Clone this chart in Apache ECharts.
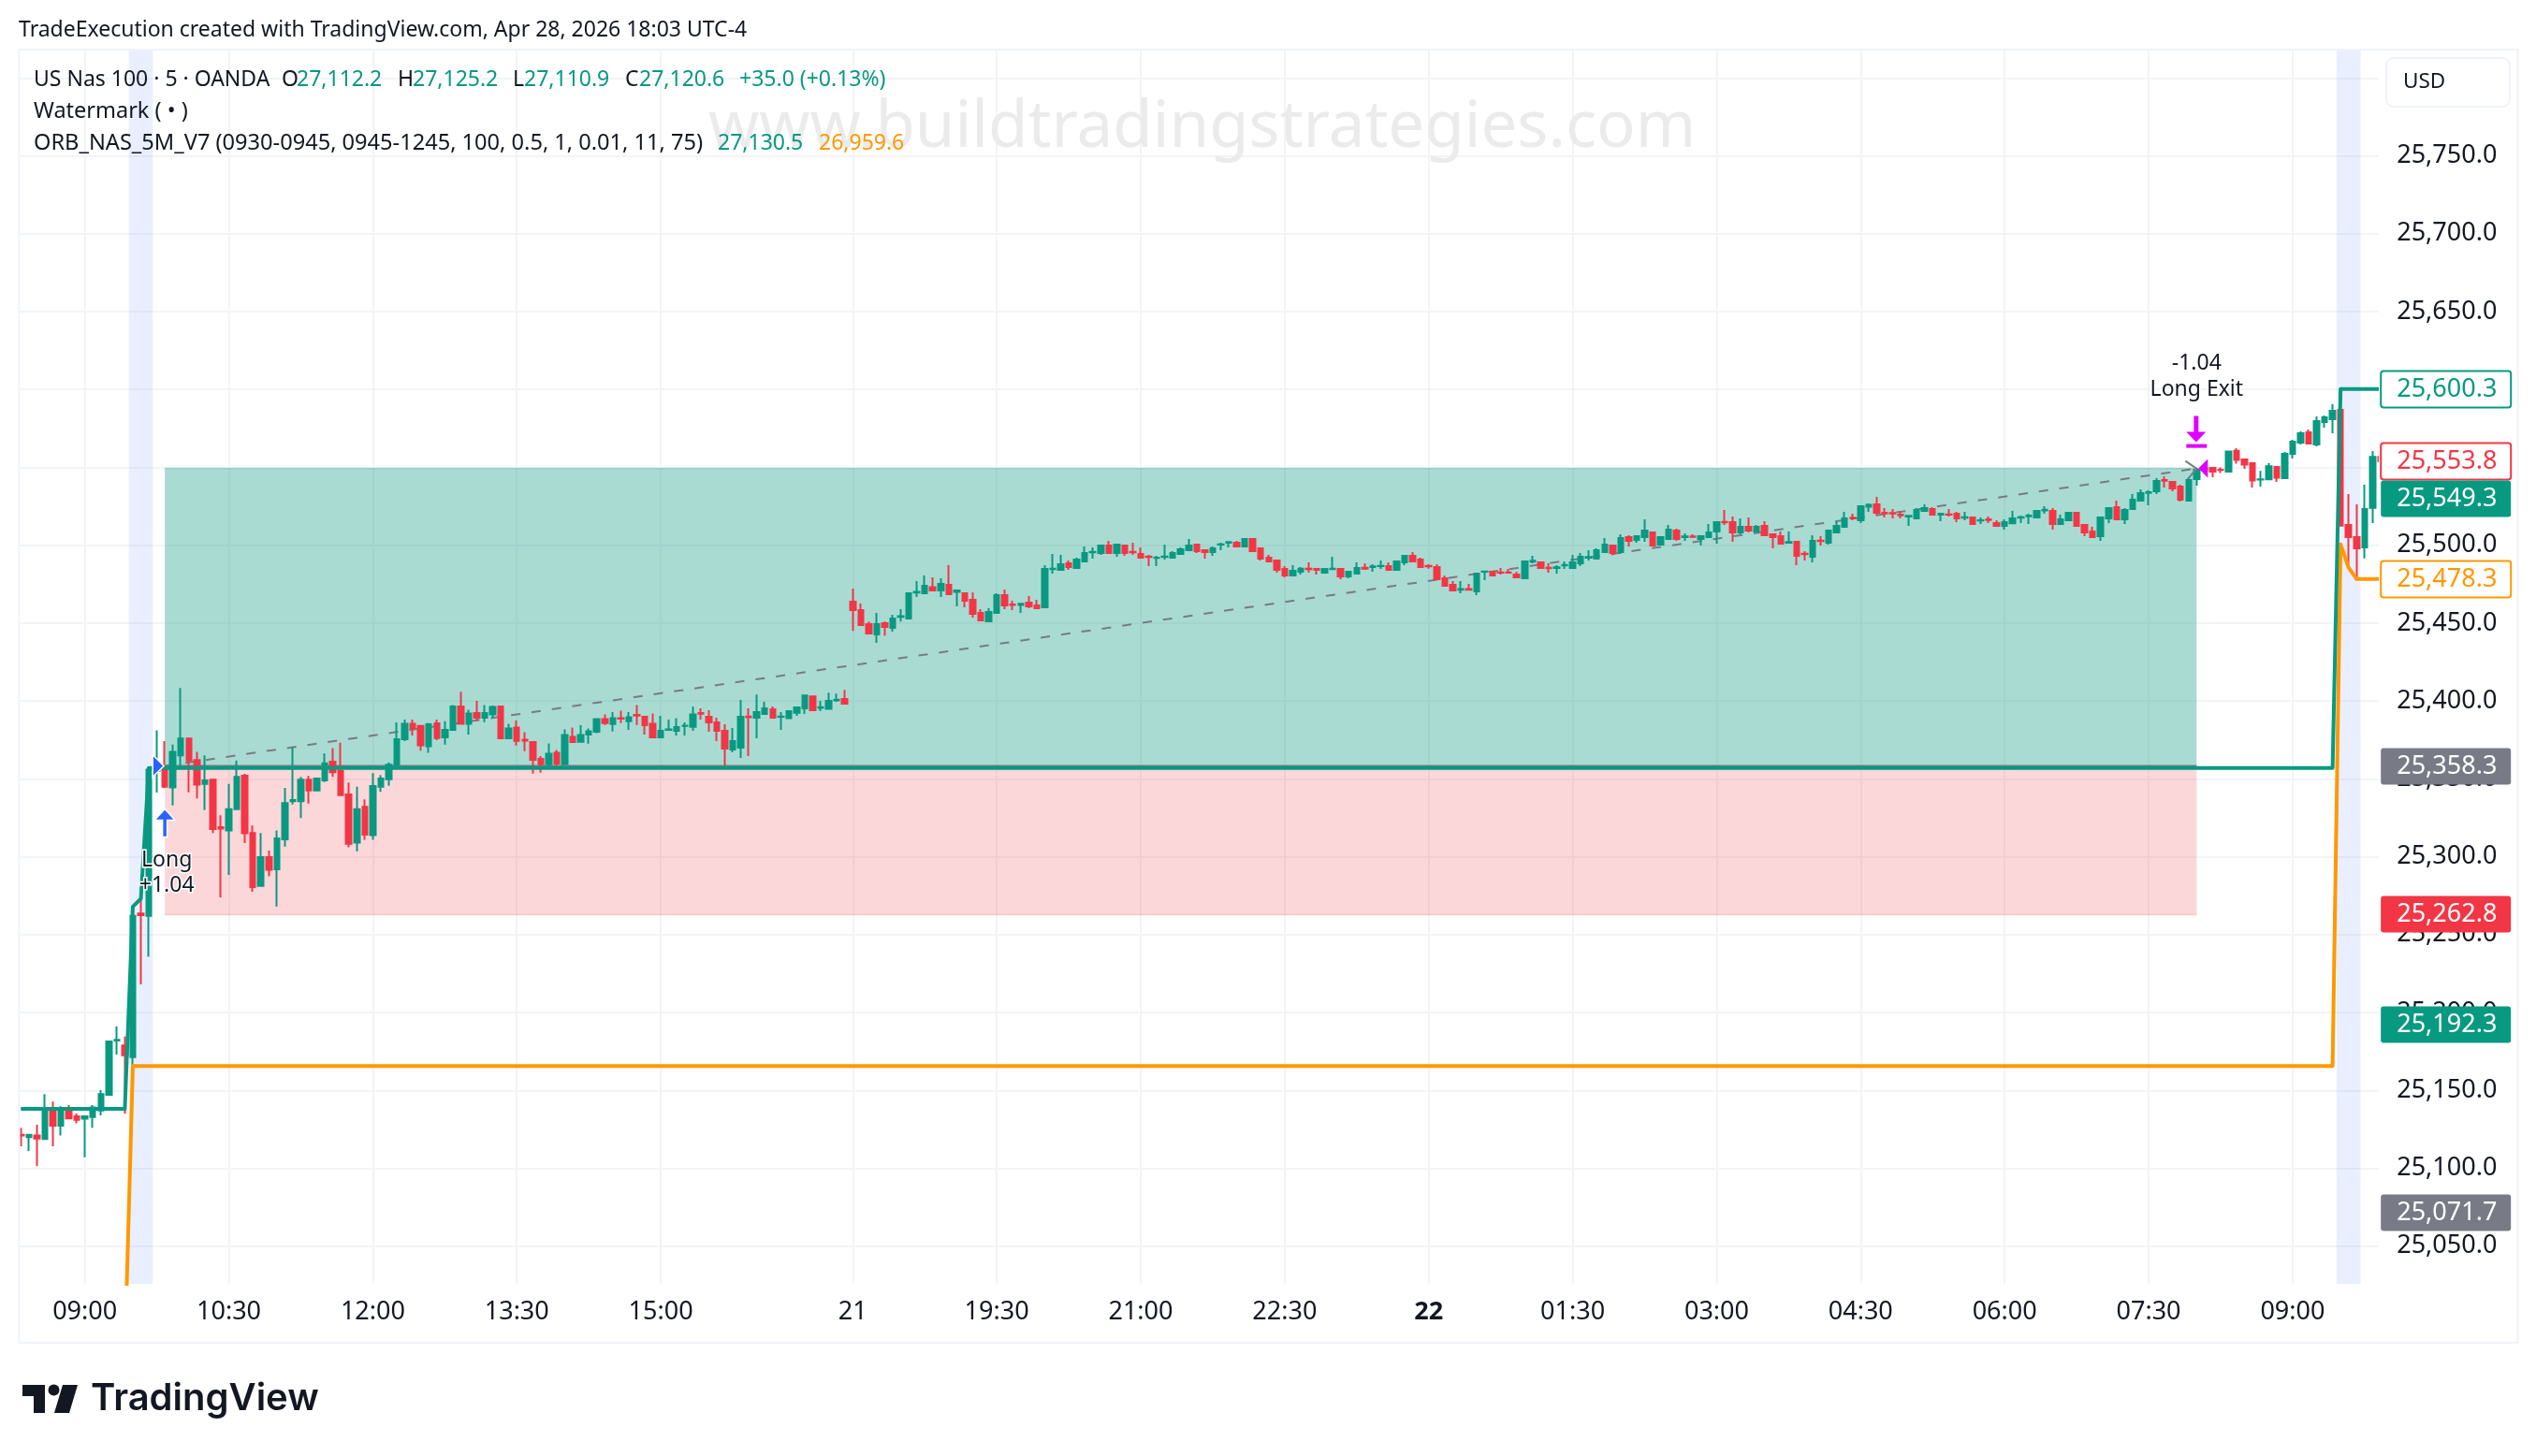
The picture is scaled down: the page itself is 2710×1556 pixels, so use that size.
<!DOCTYPE html>
<html>
<head>
<meta charset="utf-8">
<title>US Nas 100 ORB</title>
<script src="https://cdn.jsdelivr.net/npm/echarts@6/dist/echarts.min.js"></script>
<style>
  html, body { margin: 0; padding: 0; background: #ffffff; }
  #chart { width: 2710px; height: 1556px; }
</style>
</head>
<body>
<div id="chart"></div>
<script>
// candles are [open, close, low, high], one row per 5 minute bar
// Apr 20 session, 08:20 up to 16:55
var candlesAm = [
[25121.4,25121.0,25114.1,25126.0],[25120.0,25121.5,25111.0,25121.9],[25121.0,25119.0,25101.4,25127.9],[25118.7,25138.0,25118.7,25147.6],
[25138.0,25127.4,25114.1,25142.8],[25127.4,25138.0,25121.0,25139.8],[25137.5,25132.0,25131.5,25140.5],[25133.4,25131.1,25128.8,25135.2],
[25131.8,25133.4,25107.0,25133.4],[25132.9,25139.0,25126.0,25140.5],[25137.1,25147.6,25134.0,25150.2],[25147.2,25181.4,25147.0,25181.9],
[25182.0,25182.5,25173.0,25191.0],[25178.9,25172.5,25135.0,25184.6],[25171.3,25262.1,25166.3,25262.6],[25263.5,25262.5,25218.0,25273.2],
[25262.0,25355.9,25235.7,25357.8],[25355.0,25357.0,25341.2,25381.2],[25357.0,25344.9,25344.0,25374.3],[25344.5,25367.4,25333.0,25372.0],
[25365.1,25375.9,25358.0,25408.4],[25375.9,25361.7,25341.4,25376.6],[25362.1,25346.3,25337.5,25367.4],[25346.7,25349.0,25330.0,25365.1],
[25349.5,25317.8,25315.2,25350.2],[25318.9,25318.0,25273.9,25326.7],[25316.9,25330.6,25288.3,25346.7],[25330.6,25351.3,25330.6,25361.7],
[25352.0,25315.0,25308.8,25353.2],[25315.2,25280.5,25277.5,25320.0],[25281.2,25299.8,25281.2,25315.2],[25299.8,25291.6,25287.4,25304.0],
[25292.0,25311.8,25268.1,25316.9],[25311.1,25334.5,25306.5,25344.2],[25335.6,25336.4,25333.6,25370.2],[25335.7,25349.5,25324.9,25351.3],
[25349.5,25342.6,25334.1,25351.8],[25342.6,25350.2,25342.6,25350.2],[25349.0,25360.0,25347.9,25366.3],[25361.0,25354.3,25351.3,25369.7],
[25355.2,25339.6,25339.6,25373.2],[25340.0,25308.3,25306.0,25347.7],[25309.0,25330.6,25303.5,25344.9],[25332.0,25314.1,25310.9,25336.9],
[25313.9,25345.4,25310.9,25353.6],[25344.9,25350.2,25341.7,25352.5],[25349.7,25359.1,25345.6,25360.5],[25359.1,25375.5,25356.0,25386.3],
[25375.5,25385.4,25374.3,25388.1],[25385.4,25382.4,25377.8,25388.1],[25384.0,25371.6,25368.1,25384.0],[25370.9,25385.1,25366.7,25385.8],
[25385.6,25376.2,25374.8,25388.1],[25376.6,25381.5,25372.0,25387.0],[25381.5,25396.4,25381.0,25397.3],[25396.4,25385.4,25385.4,25406.0],
[25385.4,25392.0,25378.4,25394.4],[25392.2,25389.2,25387.0,25400.0],[25389.2,25392.2,25386.4,25397.4],[25391.4,25396.2,25389.0,25397.0],
[25396.4,25376.0,25376.0,25397.0],[25376.0,25382.4,25376.0,25385.4],[25383.0,25374.4,25371.4,25387.4],[25375.2,25374.6,25367.8,25380.0],
[25373.6,25362.2,25353.4,25374.0],[25362.8,25359.4,25354.0,25364.6],[25359.4,25366.2,25358.0,25372.8],[25366.8,25359.8,25358.2,25368.6],
[25359.4,25378.2,25359.4,25381.8],[25377.0,25373.6,25373.0,25383.0],[25373.8,25378.2,25373.8,25384.4],[25378.4,25380.6,25372.6,25382.4],
[25380.2,25388.4,25379.4,25389.0],[25388.4,25385.8,25384.6,25391.4],[25385.2,25389.0,25380.4,25392.8],[25389.0,25388.6,25385.8,25393.8],
[25387.0,25389.6,25381.4,25392.8],[25391.0,25390.6,25384.6,25397.4],[25389.8,25384.4,25378.4,25390.4],[25385.4,25376.6,25376.6,25392.0],
[25376.6,25380.8,25376.0,25390.4],[25381.4,25381.8,25381.0,25388.0],[25380.8,25383.2,25377.8,25389.0],[25384.0,25384.2,25377.8,25386.2],
[25383.4,25391.4,25380.8,25396.4],[25392.2,25391.8,25388.0,25395.2],[25389.8,25386.2,25380.2,25394.0],[25386.2,25380.8,25374.2,25389.2],
[25380.8,25369.4,25358.4,25385.0],[25368.8,25374.2,25367.0,25382.6],[25370.0,25389.8,25363.4,25400.6],[25390.0,25389.6,25364.6,25395.2],
[25389.2,25392.8,25376.0,25404.2],[25391.6,25395.2,25391.6,25399.4],[25394.6,25389.2,25388.6,25396.4],[25389.8,25390.0,25381.4,25392.8],
[25389.0,25393.4,25388.6,25393.4],[25392.4,25395.8,25390.4,25395.8],[25395.2,25403.6,25391.6,25403.6],[25403.0,25394.0,25394.0,25403.0],
[25395.6,25396.0,25393.4,25400.0],[25395.0,25400.0,25394.6,25405.4],[25400.4,25400.8,25399.4,25404.8],[25401.2,25398.2,25398.2,25407.2]
];
// evening of the 20th, from the 18:00 reopen up to midnight
var candlesEve = [
[25463.8,25458.4,25445.0,25472.2],[25458.3,25448.7,25448.7,25462.5],[25449.3,25443.3,25442.7,25451.0],[25442.7,25449.3,25437.3,25456.5],
[25449.9,25447.5,25442.0,25451.0],[25446.9,25452.9,25444.5,25455.3],[25454.0,25454.4,25451.0,25458.9],[25452.9,25469.1,25452.9,25469.5],
[25469.6,25470.0,25466.7,25476.9],[25469.1,25473.9,25468.5,25480.5],[25473.1,25470.9,25470.3,25479.3],[25471.0,25475.2,25466.8,25478.8],
[25474.6,25468.6,25468.6,25487.2],[25470.0,25471.0,25460.8,25471.0],[25469.2,25464.4,25460.2,25469.8],[25465.0,25456.0,25453.6,25469.8],
[25456.6,25451.8,25451.8,25459.0],[25451.2,25457.2,25451.2,25459.6],[25456.6,25468.0,25456.6,25469.2],[25468.0,25461.4,25459.0,25471.6],
[25462.0,25461.6,25458.4,25464.4],[25461.6,25462.4,25456.6,25462.4],[25463.2,25460.8,25459.6,25467.4],[25461.4,25459.6,25459.0,25465.0],
[25460.2,25484.8,25459.6,25487.2],[25484.6,25485.0,25481.8,25494.4],[25484.2,25487.8,25484.2,25493.8],[25488.4,25486.0,25484.2,25490.2],
[25485.4,25490.8,25484.8,25492.0],[25489.6,25495.0,25489.6,25499.2],[25495.4,25495.8,25491.4,25498.6],[25495.0,25499.8,25493.8,25499.8],
[25499.8,25495.0,25495.0,25502.8],[25495.0,25500.4,25492.6,25501.0],[25499.8,25495.0,25493.2,25499.8],[25495.8,25495.4,25493.8,25501.6],
[25494.4,25492.0,25492.0,25498.6],[25492.8,25492.4,25486.6,25493.8],[25491.8,25492.0,25486.6,25493.2],[25492.4,25492.8,25490.8,25500.4],
[25492.0,25495.0,25492.0,25496.2],[25494.4,25497.4,25493.8,25498.6],[25496.8,25499.8,25496.8,25504.0],[25500.4,25496.2,25495.0,25501.0],
[25496.8,25495.6,25491.4,25496.8],[25495.6,25498.0,25493.2,25499.2],[25500.4,25500.6,25496.8,25501.6],[25501.6,25502.0,25498.6,25502.2],
[25501.6,25499.2,25498.6,25502.8],[25499.2,25504.0,25499.2,25504.6],[25504.0,25496.2,25496.2,25504.0],[25498.0,25491.4,25490.2,25498.0],
[25492.0,25489.6,25489.0,25493.8],[25490.2,25484.2,25482.4,25490.8],[25484.8,25480.6,25479.4,25486.6],[25480.6,25483.6,25480.0,25487.2],
[25483.0,25485.0,25481.2,25486.0],[25485.0,25484.6,25482.4,25489.0],[25484.8,25484.2,25481.2,25485.0],[25482.4,25484.8,25481.8,25485.4],
[25484.6,25485.0,25484.2,25492.6],[25484.8,25480.0,25478.2,25484.8],[25480.0,25483.0,25478.8,25483.6],[25481.8,25485.4,25481.2,25489.0],
[25485.6,25485.0,25484.2,25488.4],[25486.0,25486.4,25483.0,25487.8],[25486.6,25486.8,25484.8,25490.2],[25486.6,25484.2,25484.2,25489.0],
[25484.2,25489.6,25483.6,25489.6],[25489.0,25493.2,25487.2,25493.2],[25493.2,25489.6,25489.6,25495.6],[25490.8,25486.0,25486.0,25492.0]
];
// the 21st from midnight, then the next session's open
var candlesNight = [
[25486.8,25486.4,25485.0,25487.8],[25486.0,25478.2,25478.2,25487.8],[25478.8,25474.0,25474.0,25480.6],[25474.6,25471.0,25471.0,25477.0],
[25471.4,25471.8,25469.2,25477.0],[25471.8,25471.4,25471.0,25475.2],[25470.4,25481.8,25468.0,25481.8],[25483.0,25483.2,25477.6,25483.6],
[25483.0,25480.6,25480.6,25483.0],[25482.6,25482.4,25481.2,25485.4],[25482.6,25482.4,25481.8,25484.8],[25481.2,25479.4,25479.4,25483.0],
[25478.8,25489.6,25478.8,25489.6],[25489.4,25490.0,25488.4,25493.2],[25489.0,25485.4,25485.4,25489.0],[25485.6,25485.2,25482.4,25488.4],
[25485.4,25485.8,25481.8,25487.2],[25487.0,25487.4,25484.8,25489.6],[25485.4,25489.0,25484.8,25493.8],[25488.4,25492.6,25486.6,25495.0],
[25492.0,25492.4,25490.2,25496.8],[25491.4,25496.8,25491.4,25498.0],[25495.6,25500.4,25495.6,25504.6],[25499.8,25495.0,25493.6,25499.8],
[25495.6,25504.6,25494.4,25507.0],[25505.2,25502.8,25499.2,25506.4],[25503.4,25505.8,25501.6,25505.8],[25505.2,25509.4,25502.2,25516.6],
[25508.2,25499.8,25499.8,25508.8],[25500.4,25505.2,25499.8,25505.8],[25504.0,25510.0,25504.0,25513.0],[25509.4,25504.0,25502.8,25510.6],
[25505.2,25505.6,25502.8,25507.6],[25505.6,25505.4,25504.6,25507.0],[25504.0,25505.8,25499.8,25506.4],[25505.2,25508.2,25505.2,25513.6],
[25508.8,25514.8,25501.0,25514.8],[25515.0,25514.6,25513.0,25522.6],[25514.8,25508.2,25502.2,25518.4],[25508.2,25511.8,25507.0,25517.2],
[25511.8,25509.4,25508.2,25517.8],[25508.8,25511.8,25508.2,25513.0],[25512.4,25506.4,25506.4,25515.4],[25507.0,25505.2,25498.0,25507.0],
[25505.8,25501.0,25501.0,25508.8],[25501.6,25502.0,25501.0,25508.8],[25502.2,25493.2,25487.2,25502.2],[25494.6,25494.2,25490.2,25496.2],
[25492.6,25502.8,25489.0,25506.4],[25503.0,25502.6,25499.8,25505.8],[25501.6,25509.4,25500.4,25509.4],[25508.2,25512.4,25507.6,25515.4],
[25511.8,25517.2,25511.8,25521.4],[25517.6,25517.2,25516.0,25520.2],[25516.0,25525.0,25514.2,25525.0],[25524.7,25526.0,25521.4,25526.8],
[25526.2,25520.8,25519.0,25531.0],[25520.8,25520.4,25517.8,25523.8],[25520.6,25520.4,25517.2,25523.2],[25519.6,25519.2,25517.2,25522.0],
[25518.4,25518.8,25512.4,25518.8],[25517.2,25522.6,25517.2,25523.8],[25522.0,25523.8,25522.0,25526.2],[25523.2,25519.6,25519.0,25524.4],
[25519.6,25520.2,25515.4,25520.2],[25519.8,25519.6,25518.4,25523.2],[25520.2,25517.2,25514.8,25521.4],[25517.6,25518.0,25516.0,25521.4],
[25517.8,25513.6,25513.6,25517.8],[25515.8,25516.0,25513.6,25517.8],[25516.6,25516.2,25514.2,25518.4],[25514.2,25512.4,25512.4,25516.0],
[25512.4,25514.8,25510.0,25516.6],[25514.0,25517.2,25513.6,25522.0],[25517.6,25518.0,25514.2,25519.0],[25518.6,25519.0,25513.6,25520.2],
[25517.8,25522.0,25517.8,25522.6],[25522.4,25522.8,25520.2,25525.0],[25522.0,25513.6,25510.0,25523.8],[25513.6,25516.6,25513.6,25519.6],
[25516.0,25520.8,25515.4,25521.4],[25520.8,25512.4,25512.4,25520.8],[25513.0,25508.2,25505.8,25513.0],[25508.8,25505.2,25504.6,25511.8],
[25505.8,25517.8,25502.8,25517.8],[25517.2,25523.8,25514.2,25524.4],[25524.4,25516.6,25516.6,25528.6],[25516.6,25522.6,25513.6,25523.8],
[25523.2,25529.2,25522.6,25532.8],[25528.6,25533.4,25528.6,25535.8],[25533.6,25534.0,25525.6,25535.2],[25534.6,25541.2,25532.8,25543.0],
[25541.8,25541.4,25537.0,25544.2],[25540.6,25536.4,25534.6,25540.6],[25537.6,25529.2,25528.0,25538.8],[25528.6,25541.8,25528.6,25543.6],
[25542.4,25548.5,25538.2,25549.7],[25549.0,25548.0,25546.0,25549.7],[25549.7,25547.3,25543.7,25549.7],[25548.5,25548.3,25546.3,25550.0],
[25547.3,25560.1,25547.3,25560.1],[25560.7,25554.7,25552.3,25562.3],[25555.1,25551.7,25549.1,25555.1],[25552.7,25541.5,25537.0,25552.7],
[25542.1,25542.3,25537.6,25547.7],[25542.3,25550.7,25542.3,25552.7],[25550.3,25543.3,25540.7,25550.3],[25543.1,25558.7,25543.1,25559.9],
[25558.7,25566.5,25555.7,25567.7],[25565.9,25571.9,25564.7,25573.1],[25572.5,25565.3,25565.3,25574.3],[25564.7,25579.7,25563.5,25582.7],
[25579.1,25582.1,25575.5,25583.3],[25580.9,25586.3,25571.9,25590.5],[25586.9,25512.6,25512.6,25599.7],[25513.0,25505.2,25485.2,25532.8],
[25505.2,25498.0,25478.6,25526.2],[25498.6,25523.2,25491.6,25538.8],[25524.0,25556.7,25514.2,25560.5],[25556.7,25553.8,25553.8,25558.0]
];

// time axis: bar index and the label shown there
var tickBars = [8, 26, 44, 62, 80, 104, 122, 140, 158, 176, 194, 212, 230, 248, 266, 284];
var tickLabels = ['09:00', '10:30', '12:00', '13:30', '15:00', '21', '19:30', '21:00', '22:30', '22', '01:30', '03:00', '04:30', '06:00', '07:30', '09:00'];
var priceTicks = [25050, 25100, 25150, 25200, 25250, 25300, 25350, 25400, 25450, 25500, 25550, 25600, 25650, 25700, 25750, 25800];
var priceLabelTicks = [25050, 25100, 25150, 25200, 25250, 25300, 25350, 25400, 25450, 25500, 25550, 25600, 25650, 25700, 25750];

// indicator lines as [bar, price]
var orbHigh = [[0, 25138.1], [13, 25138.1], [14, 25268], [15, 25273], [16, 25357], [289, 25357], [290, 25600.3], [295, 25600.3]];
var orbLow = [[13, 24980], [14, 25165.6], [289, 25165.6], [290, 25500.6], [291, 25485.6], [292, 25478.3], [295, 25478.3]];
var entryLine = [[18, 25358.3], [272, 25358.3]];
var tradePath = [[18, 25358.3], [272, 25549.3]];

// opening range background, first and last bar
var sessionBands = [[14, 16], [290, 292]];
// trade boxes: first bar, last bar, top price, bottom price
var profitBox = [[18, 272, 25549.3, 25358.3]];
var lossBox = [[18, 272, 25358.3, 25262.8]];

var priceTags = [25600.3, 25553.8, 25549.3, 25478.3, 25358.3, 25262.8, 25192.3, 25071.7];

var UP = '#089981', DOWN = '#f23645', ORANGE = '#ff9800', GREY = '#787b86', BLUE = '#2962ff', MAGENTA = '#e000ff';
var GRIDC = '#f3f4f6', FONTNAME = 'Noto Sans', FONT = '"Noto Sans", sans-serif';
// colour and fill per tag, dy for the tag TradingView pushes down to avoid overlap
var tagLook = [
  { c: UP, outline: true }, { c: DOWN, outline: true }, { c: UP, dy: 32 }, { c: ORANGE, outline: true },
  { c: GREY }, { c: DOWN }, { c: UP }, { c: GREY }
];

var candles = candlesAm.concat(candlesEve, candlesNight);
var categories = candles.map(function (c, i) {
  var k = tickBars.indexOf(i);
  return k >= 0 ? tickLabels[k] : '';
});
function isTickBar(i) { return tickBars.indexOf(i) >= 0; }
function fmtPrice(v) { return v.toLocaleString('en-US', { minimumFractionDigits: 1, maximumFractionDigits: 1 }); }

var chart = echarts.init(document.getElementById('chart'), null, { renderer: 'canvas' });

function renderBand(params, api) {
  var a = api.coord([api.value(0), 25000]);
  var b = api.coord([api.value(1), 25000]);
  var w = api.size([1, 0])[0];
  var cs = params.coordSys;
  return { type: 'rect', shape: { x: a[0] - w / 2, y: cs.y, width: b[0] - a[0] + w, height: cs.height }, style: { fill: 'rgba(41,98,255,0.1)' } };
}
function boxRenderer(fill, edge, edgeOnTop) {
  return function (params, api) {
    var a = api.coord([api.value(0), api.value(2)]);
    var b = api.coord([api.value(1), api.value(3)]);
    var ey = edgeOnTop ? a[1] : b[1];
    return { type: 'group', children: [
      { type: 'rect', shape: { x: a[0], y: a[1], width: b[0] - a[0], height: b[1] - a[1] }, style: { fill: fill } },
      { type: 'line', shape: { x1: a[0], y1: ey, x2: b[0], y2: ey }, style: { stroke: edge, lineWidth: 1.5 } }
    ] };
  };
}
function markText(x, y, str) {
  return { type: 'text', style: { x: x, y: y, text: str, fill: '#131722', font: '23px ' + FONT, align: 'center', verticalAlign: 'middle', stroke: '#ffffff', lineWidth: 3 } };
}
// entry and exit arrows hang off the ends of the trade path
function renderTradeMarks(params, api) {
  var e = api.coord(tradePath[0]);
  var x = api.coord(tradePath[1]);
  var halo = { stroke: '#ffffff', lineWidth: 1.5 };
  return { type: 'group', children: [
    { type: 'polygon', shape: { points: [[e[0] - 1, e[1]], [e[0] - 13, e[1] - 12], [e[0] - 13, e[1] + 12]] }, style: { fill: BLUE, stroke: halo.stroke, lineWidth: halo.lineWidth } },
    { type: 'polygon', shape: { points: [[e[0], e[1] + 46], [e[0] + 11, e[1] + 58], [e[0] + 2.5, e[1] + 58], [e[0] + 2.5, e[1] + 76], [e[0] - 2.5, e[1] + 76], [e[0] - 2.5, e[1] + 58], [e[0] - 11, e[1] + 58]] }, style: { fill: BLUE, stroke: halo.stroke, lineWidth: halo.lineWidth } },
    markText(e[0] + 2, e[1] + 101, 'Long'),
    markText(e[0] + 2, e[1] + 128, '+1.04'),
    { type: 'polyline', shape: { points: [[x[0] - 12, x[1] - 8], [x[0], x[1]], [x[0] - 9, x[1] + 11]] }, style: { fill: 'none', stroke: GREY, lineWidth: 2 } },
    { type: 'polygon', shape: { points: [[x[0] + 2, x[1]], [x[0] + 12, x[1] - 10], [x[0] + 12, x[1] + 10]] }, style: { fill: MAGENTA } },
    { type: 'polygon', shape: { points: [[x[0] - 0.5, x[1] - 28], [x[0] - 11, x[1] - 39], [x[0] - 3, x[1] - 39], [x[0] - 3, x[1] - 56], [x[0] + 2, x[1] - 56], [x[0] + 2, x[1] - 39], [x[0] + 10, x[1] - 39]] }, style: { fill: MAGENTA } },
    { type: 'rect', shape: { x: x[0] - 11, y: x[1] - 26, width: 22, height: 4 }, style: { fill: MAGENTA } },
    markText(x[0], x[1] - 84, 'Long Exit'),
    markText(x[0], x[1] - 112, '-1.04')
  ] };
}
function renderTag(params, api) {
  var look = tagLook[params.dataIndex];
  var p = api.coord([295, api.value(0)]);
  var left = params.coordSys.x + params.coordSys.width - 4;
  var cy = Math.round(p[1] + (look.dy || 0));
  return { type: 'group', children: [
    { type: 'rect', shape: { x: left, y: cy - 19.5, width: 139, height: 39, r: 3 }, style: { fill: look.outline ? '#ffffff' : look.c, stroke: look.c, lineWidth: look.outline ? 2 : 0 } },
    { type: 'text', style: { x: left + 17, y: cy, text: fmtPrice(api.value(0)), fill: look.outline ? look.c : '#ffffff', font: '27px ' + FONT, verticalAlign: 'middle' } }
  ] };
}

function txt(x, y, str, color, size, extra) {
  var st = { x: x, y: y, text: str, fill: color, font: (size || 23) + 'px ' + FONT, verticalAlign: 'middle' };
  return Object.assign({ type: 'text', z: 9, silent: true, style: st }, extra || {});
}

var option = {
  animation: false,
  backgroundColor: '#ffffff',
  grid: { left: 18, top: 53, width: 2530.2, height: 1319, containLabel: false },
  xAxis: {
    type: 'category',
    data: categories,
    boundaryGap: true,
    axisLine: { show: false },
    axisTick: { show: false, alignWithLabel: true },
    splitLine: { show: true, alignWithLabel: true, interval: function (i) { return isTickBar(i); }, lineStyle: { color: GRIDC, width: 2 } },
    axisLabel: {
      interval: function (i) { return isTickBar(i); },
      margin: 17,
      color: '#131722',
      fontSize: 27,
      fontFamily: FONTNAME,
      formatter: function (v) { return v === '22' ? '{d|' + v + '}' : v; },
      rich: { d: { fontWeight: 'bold', fontSize: 27, fontFamily: FONTNAME, color: '#131722' } }
    }
  },
  yAxis: {
    type: 'value',
    position: 'right',
    min: 25025.8,
    max: 25818.2,
    scale: true,
    axisLine: { show: false },
    axisTick: { show: false, customValues: priceTicks },
    splitLine: { show: true, lineStyle: { color: GRIDC, width: 2 } },
    axisLabel: { customValues: priceLabelTicks, margin: 13, color: '#131722', fontSize: 27, fontFamily: FONTNAME, formatter: fmtPrice }
  },
  series: [
    { type: 'custom', name: 'session', z: 1, data: sessionBands, encode: { x: [0, 1] }, renderItem: renderBand },
    { type: 'custom', name: 'profit', z: 1, data: profitBox, encode: { x: [0, 1], y: [2, 3] }, renderItem: boxRenderer('rgba(8,153,129,0.35)', 'rgba(8,153,129,0.25)', true) },
    { type: 'custom', name: 'loss', z: 1, data: lossBox, encode: { x: [0, 1], y: [2, 3] }, renderItem: boxRenderer('rgba(242,54,69,0.2)', 'rgba(242,54,69,0.2)', false) },
    { type: 'line', name: 'entry', z: 2, data: entryLine, symbol: 'none', lineStyle: { color: GREY, width: 2 } },
    { type: 'line', name: 'trade', z: 2, data: tradePath, symbol: 'none', lineStyle: { color: GREY, width: 2, type: [10, 12] } },
    {
      type: 'candlestick', name: 'US Nas 100', z: 3, data: candles, barWidth: 6,
      itemStyle: { color: UP, color0: DOWN, borderColor: UP, borderColor0: DOWN, borderWidth: 2 }
    },
    { type: 'line', name: 'orbLow', z: 4, data: orbLow, symbol: 'none', lineStyle: { color: ORANGE, width: 4, join: 'round' } },
    { type: 'line', name: 'orbHigh', z: 4, data: orbHigh, symbol: 'none', lineStyle: { color: UP, width: 4, join: 'round' } },
    { type: 'custom', name: 'marks', z: 6, data: [[18, 25358.3]], encode: { x: 0, y: 1 }, clip: false, renderItem: renderTradeMarks },
    { type: 'custom', name: 'tags', z: 8, data: priceTags.map(function (p) { return [p]; }), encode: { y: 0 }, clip: false, renderItem: renderTag }
  ],
  graphic: { elements: [
    // masks for the half bands sticking out of the pane
    { type: 'rect', z: 7, silent: true, shape: { x: 0, y: 50, width: 20, height: 1330 }, style: { fill: '#ffffff' } },
    { type: 'rect', z: 7, silent: true, shape: { x: 2542, y: 50, width: 8, height: 1330 }, style: { fill: '#ffffff' } },
    { type: 'rect', z: 7, silent: true, shape: { x: 20.5, y: 53, width: 2670, height: 1382 }, style: { fill: 'none', stroke: '#f0f3fa', lineWidth: 2 } },
    // watermark
    { type: 'text', z: 1, silent: true, style: { x: 757, y: 137, text: 'www.buildtradingstrategies.com', fill: '#ebebec', font: '69px "Noto Sans", sans-serif', verticalAlign: 'middle' } },
    // header
    txt(20, 32, 'TradeExecution created with TradingView.com, Apr 28, 2026 18:03 UTC-4', '#131722'),
    txt(36, 85, 'US Nas 100 · 5 · OANDA', '#131722'),
    txt(301, 85, 'O', '#131722'), txt(317, 85, '27,112.2', UP),
    txt(425, 85, 'H', '#131722'), txt(441, 85, '27,125.2', UP),
    txt(548, 85, 'L', '#131722'), txt(560, 85, '27,110.9', UP),
    txt(668, 85, 'C', '#131722'), txt(683, 85, '27,120.6', UP),
    txt(790, 85, '+35.0 (+0.13%)', UP),
    txt(36, 119, 'Watermark ( • )', '#131722', 23.5),
    txt(36, 153, 'ORB_NAS_5M_V7 (0930-0945, 0945-1245, 100, 0.5, 1, 0.01, 11, 75)', '#131722', 23.6),
    txt(767, 153, '27,130.5', UP),
    txt(875, 153, '26,959.6', ORANGE),
    // currency button
    { type: 'rect', z: 9, silent: true, shape: { x: 2550, y: 62, width: 132, height: 52, r: 8 }, style: { fill: '#ffffff', stroke: '#f0f3fa', lineWidth: 2 } },
    txt(2568, 88, 'USD', '#131722', 22.5),
    // logo
    { type: 'polygon', z: 9, silent: true, shape: { points: [[24, 1480], [48, 1480], [48, 1510], [36, 1510], [36, 1492], [24, 1492]] }, style: { fill: '#131722' } },
    { type: 'circle', z: 9, silent: true, shape: { cx: 57.5, cy: 1485.5, r: 6 }, style: { fill: '#131722' } },
    { type: 'polygon', z: 9, silent: true, shape: { points: [[67, 1480], [83, 1480], [74, 1510], [58, 1510]] }, style: { fill: '#131722' } },
    { type: 'text', z: 9, silent: true, style: { x: 97, y: 1495, text: 'TradingView', fill: '#131722', font: '600 40px Inter, sans-serif', verticalAlign: 'middle' } }
  ] }
};
chart.setOption(option);
window.addEventListener('resize', function () { chart.resize(); });
</script>
</body>
</html>
